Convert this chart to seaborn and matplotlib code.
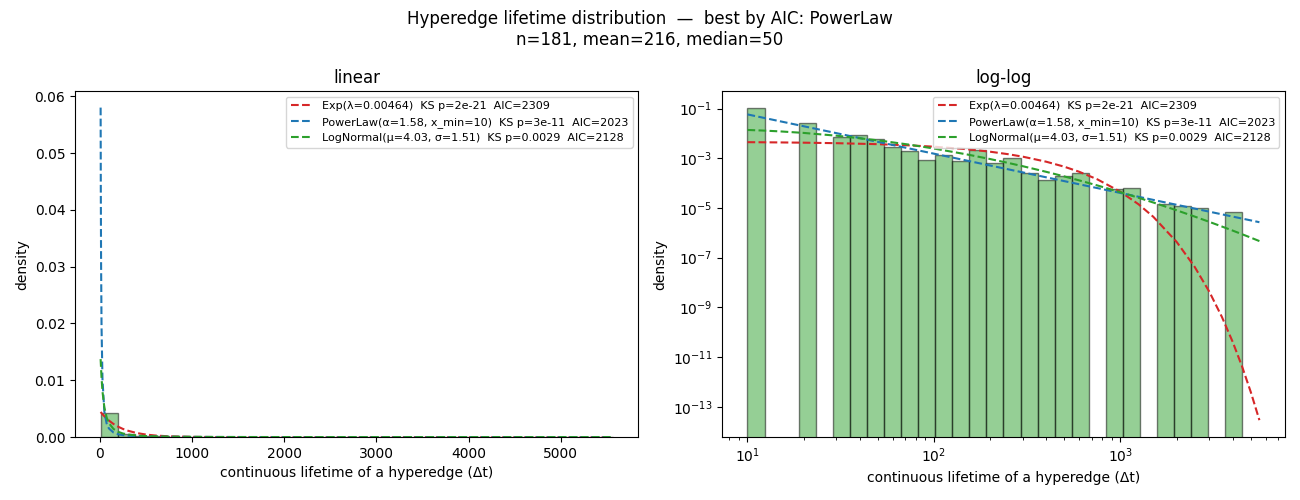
import numpy as np
import pandas as pd
import matplotlib
matplotlib.use("Agg")
import matplotlib.pyplot as plt
import seaborn as sns

# summary of the sample
n_obs, mean_life, median_life = 181, 216, 50
x_min_data, x_max_data = 10, 5560

# histogram densities (30 linear bins, 30 log bins)
lin_density = [0.00424, 0.000567, 0.000179, 0.000149, 3.0e-5, 6.0e-5, 6.0e-5, 0.0, 3.0e-5, 0.0,
               3.0e-5, 0.0, 3.0e-5, 0.0, 0.0, 3.0e-5, 0.0, 0.0, 0.0, 0.0,
               3.0e-5, 0.0, 0.0, 0.0, 0.0, 0.0, 0.0, 0.0, 0.0, 0.0]
log_density = [0.11, 0.0, 0.0, 0.0274, 0.0, 0.00748, 0.009, 0.0062, 0.00296, 0.00204,
               0.00089, 0.00141, 0.00076, 0.0021, 0.00062, 0.00098, 0.000245, 0.000132, 0.0002, 0.000245,
               0.0, 5.6e-5, 6.6e-5, 0.0, 1.5e-5, 1.15e-5, 9.8e-6, 0.0, 6.6e-6, 0.0]

# fitted curves, sampled along the lifetime axis
curve_x = [10, 12, 15, 20, 30, 50, 75, 100, 150, 200, 250, 300, 400, 500, 600, 750,
           1000, 1250, 1500, 2000, 2500, 3000, 3500, 4000, 4500, 5000, 5560]
exp_pdf = [0.004429, 0.004388, 0.004328, 0.004227, 0.004036, 0.003679, 0.003276, 0.002917,
           0.002313, 0.001834, 0.001454, 0.001153, 0.000725, 0.000456, 0.0002868, 0.0001429,
           4.48e-5, 1.405e-5, 4.41e-6, 4.33e-7, 4.26e-8, 4.18e-9, 4.11e-10, 4.04e-11,
           3.97e-12, 3.90e-13, 2.90e-14]
pow_pdf = [0.058, 0.04347, 0.03056, 0.0194, 0.01022, 0.00456, 0.002403, 0.001526,
           0.000804, 0.00051, 0.0003586, 0.000269, 0.0001707, 0.00012, 8.99e-5, 6.32e-5,
           4.01e-5, 2.82e-5, 2.11e-5, 1.34e-5, 9.43e-6, 7.07e-6, 5.54e-6, 4.49e-6,
           3.73e-6, 3.16e-6, 2.67e-6]
lgn_pdf = [0.01373, 0.01305, 0.01201, 0.010448, 0.008076, 0.005268, 0.003459, 0.002457,
           0.001427, 0.000928, 0.0006489, 0.0004764, 0.0002841, 0.0001855, 0.0001289, 8.09e-5,
           4.30e-5, 2.566e-5, 1.657e-5, 8.06e-6, 4.50e-6, 2.747e-6, 1.791e-6, 1.226e-6,
           8.71e-7, 6.39e-7, 4.65e-7]

fit_labels = ["Exp(λ=0.00464)  KS p=2e-21  AIC=2309",
              "PowerLaw(α=1.58, x_min=10)  KS p=3e-11  AIC=2023",
              "LogNormal(μ=4.03, σ=1.51)  KS p=0.0029  AIC=2128"]
fit_colors = ["tab:red", "tab:blue", "tab:green"]

lin_edges = np.linspace(x_min_data, x_max_data, len(lin_density) + 1)
log_edges = np.logspace(np.log10(x_min_data), np.log10(x_max_data), len(log_density) + 1)
df_lin = pd.DataFrame({"mid": (lin_edges[:-1] + lin_edges[1:]) / 2, "density": lin_density})
df_log = pd.DataFrame({"mid": np.sqrt(log_edges[:-1] * log_edges[1:]), "density": log_density})

bar_kws = dict(stat="count", color="tab:green", alpha=0.5,
               edgecolor=(0, 0, 0, 0.5), linewidth=1)

fig, axes = plt.subplots(1, 2, figsize=(13, 5))

# linear panel
ax = axes[0]
sns.histplot(data=df_lin, x="mid", weights="density", bins=list(lin_edges), ax=ax, **bar_kws)
for ys, lab, col in zip([exp_pdf, pow_pdf, lgn_pdf], fit_labels, fit_colors):
    sns.lineplot(x=curve_x, y=ys, color=col, linestyle="--", label=lab, ax=ax)
ax.set_title("linear", fontsize=12)
ax.set_xlabel("continuous lifetime of a hyperedge (Δt)")
ax.set_ylabel("density")
ax.legend(fontsize=8, loc="upper right")

# log-log panel
ax = axes[1]
sns.histplot(data=df_log, x="mid", weights="density", bins=list(log_edges), ax=ax, **bar_kws)
for ys, lab, col in zip([exp_pdf, pow_pdf, lgn_pdf], fit_labels, fit_colors):
    sns.lineplot(x=curve_x, y=ys, color=col, linestyle="--", label=lab, ax=ax)
ax.set_xscale("log")
ax.set_yscale("log")
ax.set_ylim(10 ** -14.22, 10 ** -0.3)
ax.set_title("log-log", fontsize=12)
ax.set_xlabel("continuous lifetime of a hyperedge (Δt)")
ax.set_ylabel("density")
ax.legend(fontsize=8, loc="upper right")

fig.suptitle(f"Hyperedge lifetime distribution  —  best by AIC: PowerLaw\n"
             f"n={n_obs}, mean={mean_life}, median={median_life}", fontsize=12)
plt.tight_layout()
plt.savefig("out.png", dpi=100)
